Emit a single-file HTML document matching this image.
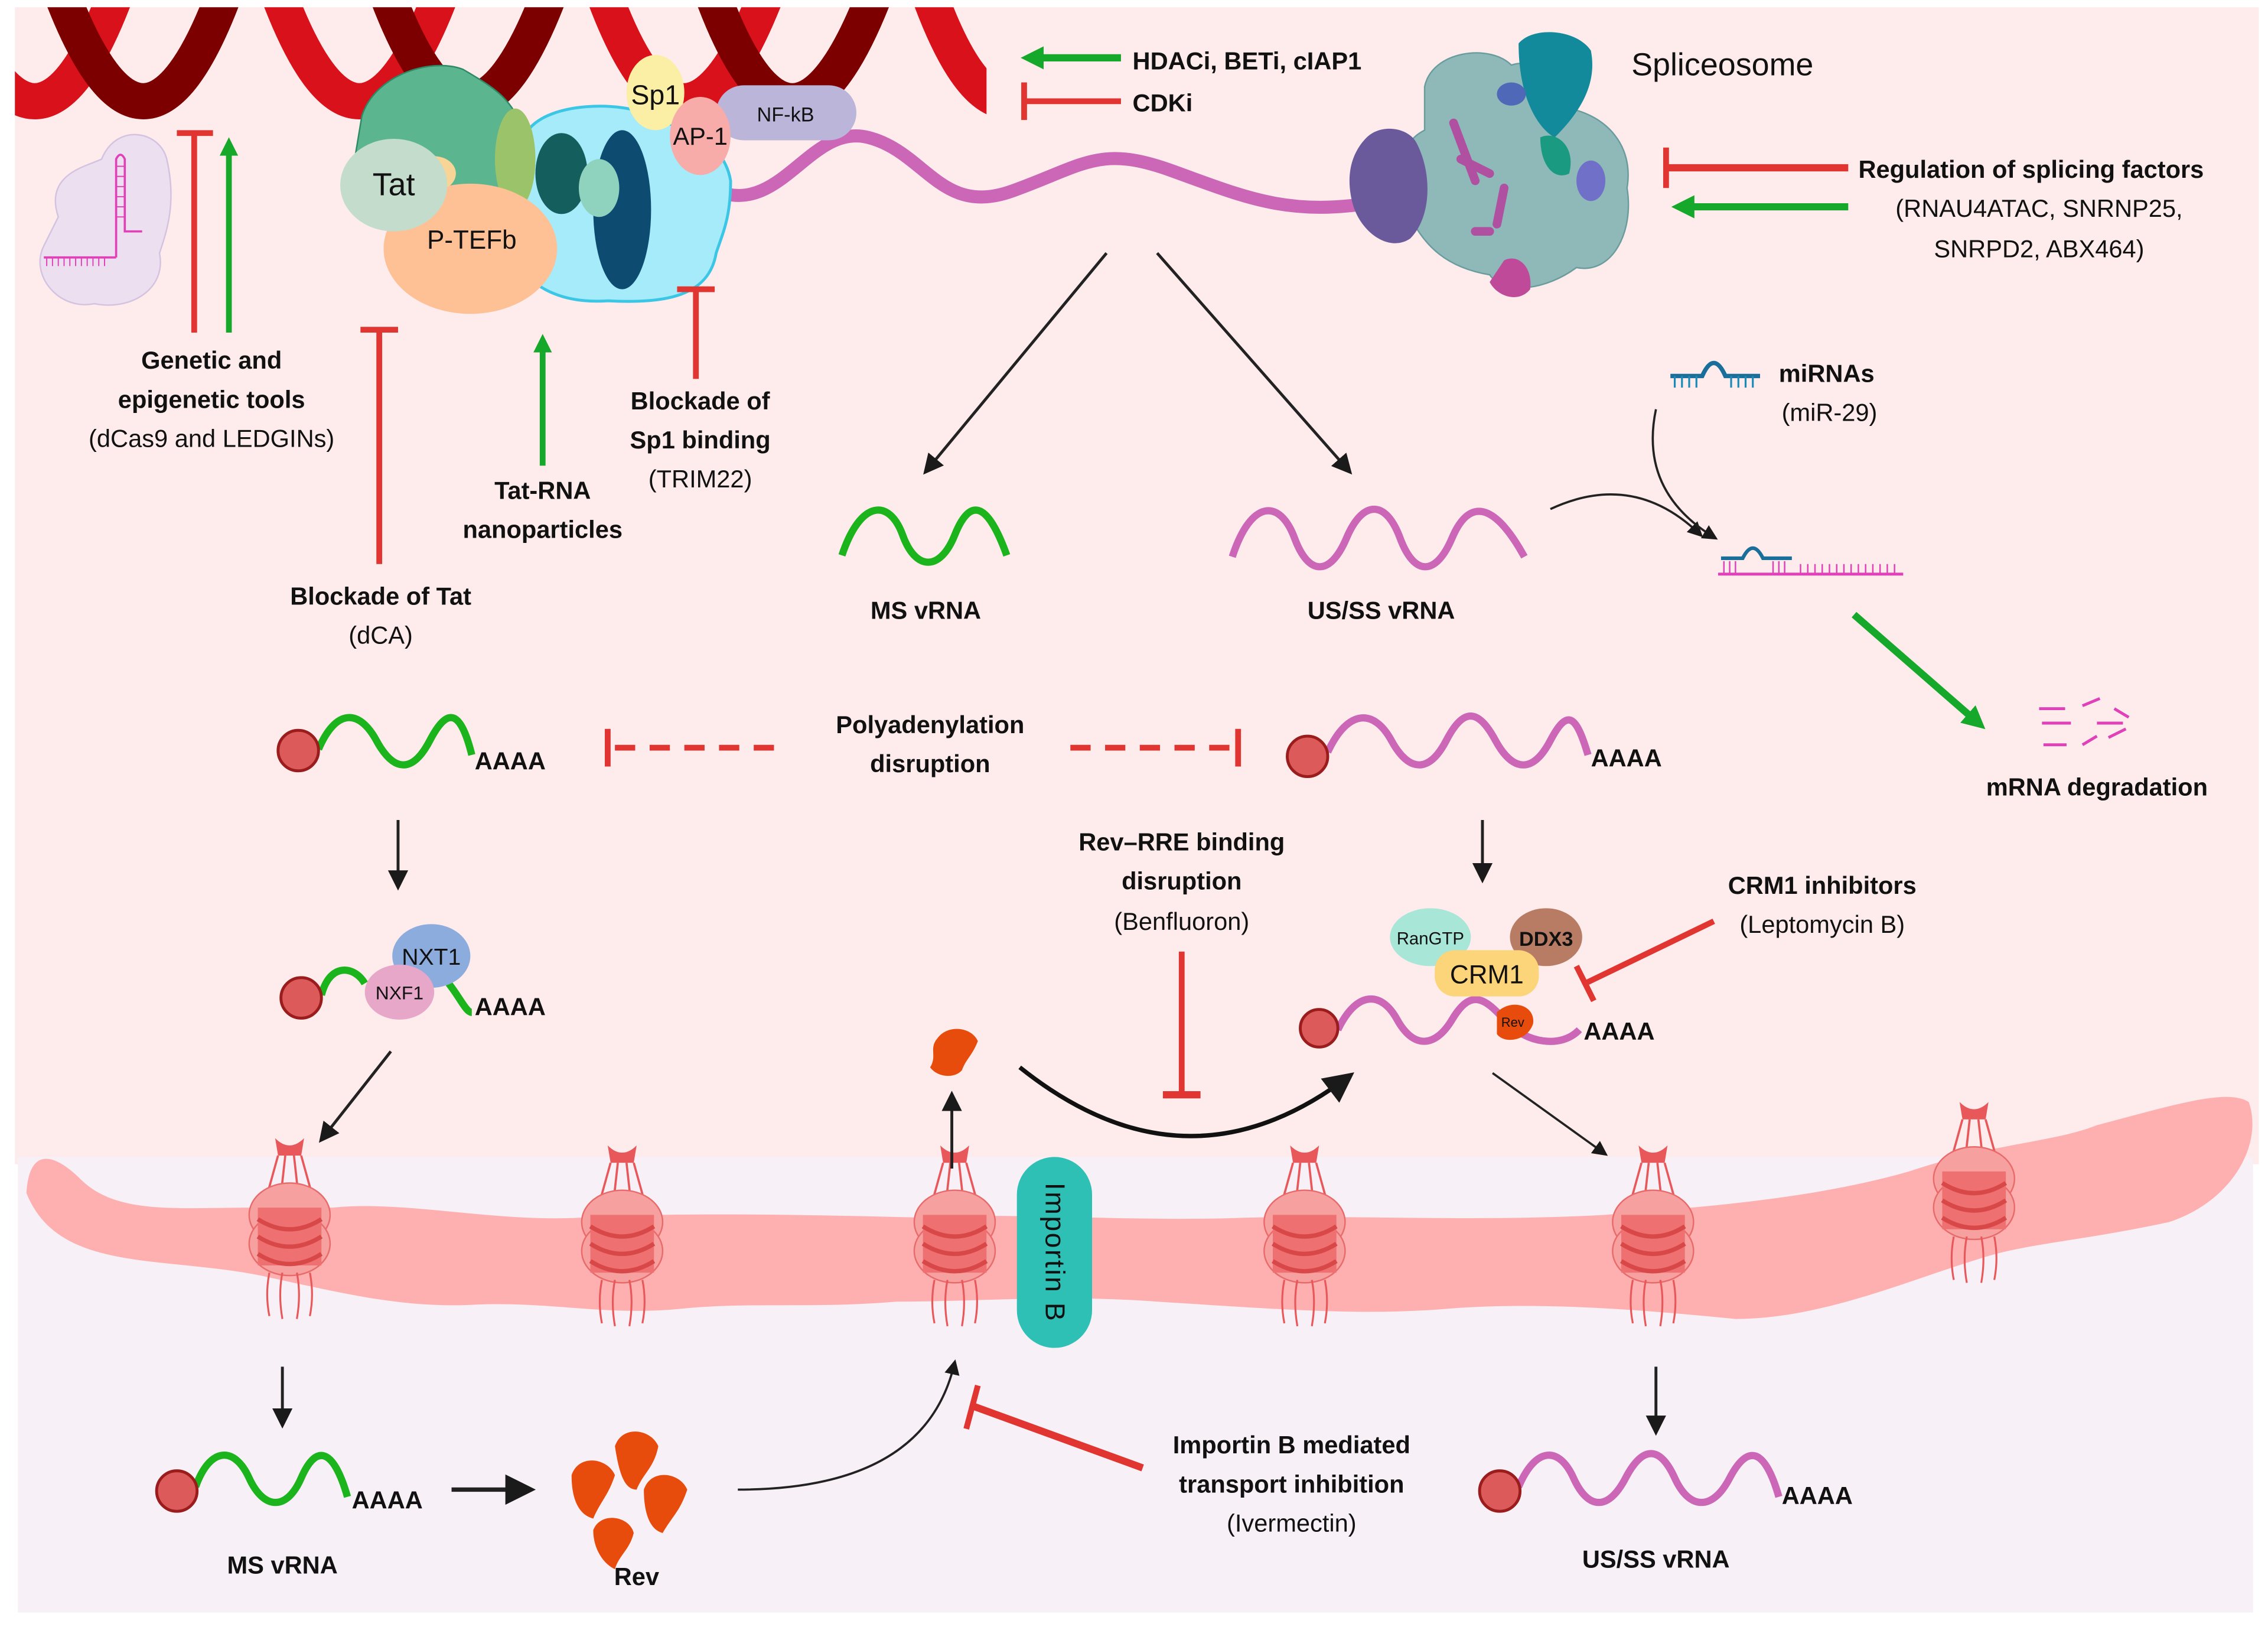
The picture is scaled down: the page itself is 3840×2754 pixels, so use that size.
<!DOCTYPE html>
<html><head><meta charset="utf-8"><style>
html,body{margin:0;padding:0;background:#fff}
svg{display:block}
text{font-family:"Liberation Sans",Arial,sans-serif;fill:#111}
.b{font-weight:bold;font-size:17px}
.n{font-size:17px}
</style></head><body>
<svg width="3840" height="2754" viewBox="0 0 1568 1125" xmlns="http://www.w3.org/2000/svg">
<defs>
<marker id="ah" viewBox="0 0 10 10" refX="8" refY="5" markerWidth="7" markerHeight="7" orient="auto-start-reverse"><path d="M0,0 L10,5 L0,10 z" fill="#1a1a1a"/></marker>
<marker id="gh" viewBox="0 0 10 10" refX="6" refY="5" markerWidth="3.2" markerHeight="3.2" orient="auto"><path d="M0,0 L10,5 L0,10 z" fill="#16a82a"/></marker>
<clipPath id="dna"><rect x="10" y="5" width="672" height="85"/></clipPath>
<g id="pore">
 <path d="M-10,-48 q10,10 20,0 l-2,12 h-16z" fill="#e8585a"/>
 <path d="M-8,-36 L-18,0 M-3,-36 L-7,0 M3,-36 L7,0 M8,-36 L18,0" stroke="#e8585a" stroke-width="1.5" fill="none"/>
 <ellipse cx="0" cy="5" rx="28" ry="22" fill="#f6a0a0" stroke="#e86a6a" stroke-width="1"/>
 <ellipse cx="0" cy="25" rx="28" ry="22" fill="#f6a0a0" stroke="#e86a6a" stroke-width="1"/>
 <path d="M-22,0 h44 v40 h-44z" fill="#ee7070"/>
 <path d="M-22,8 q22,14 44,0 M-22,20 q22,14 44,0 M-22,32 q22,14 44,0" stroke="#d94848" stroke-width="3" fill="none"/>
 <path d="M-14,45 q-3,15 0,30 M-5,45 q-3,15 0,32 M5,45 q3,15 0,32 M14,45 q3,15 0,30" stroke="#e8585a" stroke-width="1.3" fill="none"/>
</g>
</defs>
<rect x="10" y="5" width="1552" height="800" fill="#fdeceb"/>
<rect x="12" y="800" width="1546" height="315" fill="#f7f0f6"/>
<path d="M18,825 C20,790 40,800 55,815 C80,840 120,835 175,835 L230,835 C280,830 340,845 400,842 C470,838 560,840 640,842 C700,838 780,845 860,842 C940,840 1020,845 1110,840 C1170,835 1250,830 1320,810 C1380,790 1420,790 1450,778 C1500,765 1540,752 1555,762 C1565,790 1545,830 1500,845 C1440,858 1400,860 1370,870 C1320,885 1260,912 1200,912 C1130,905 1060,900 1000,905 C940,910 880,905 800,900 C730,895 680,900 620,900 C560,905 520,900 470,905 C420,910 380,900 330,902 C280,905 240,895 180,882 C110,868 40,880 18,825 Z" fill="#feb0b0"/>
<use href="#pore" x="200" y="835"/>
<use href="#pore" x="430" y="840"/>
<use href="#pore" x="660" y="840"/>
<use href="#pore" x="902" y="840"/>
<use href="#pore" x="1143" y="840"/>
<use href="#pore" x="1365" y="810"/>
<rect x="703" y="800" width="52" height="132" rx="26" fill="#2ec0b4"/>
<text x="729" y="866" text-anchor="middle" transform="rotate(90 729 866)" dy="6" style="font-size:19px;letter-spacing:1px">Importin B</text>

<g clip-path="url(#dna)" fill="none" stroke-width="25">
 <path d="M-258,-5 Q-202,145 -146,-5 T-33,-5 T80,-5 T192,-5 T305,-5 T417,-5 T530,-5 T642,-5 T755,-5" stroke="#d9111a"/>
 <path d="M-183,-5 Q-127,145 -71,-5 T42,-5 T155,-5 T267,-5 T380,-5 T492,-5 T605,-5 T717,-5" stroke="#7d0000"/>
</g>

<path d="M40,150 C30,120 60,115 70,110 C80,85 110,90 115,110 C122,140 115,160 110,175 C115,200 90,215 65,210 C40,215 20,190 30,170 Z" fill="#ecdff0" stroke="#d4c2e0"/>
<path d="M80,178 V110 q3,-6 6,0 V160 h12 M30,178 h50" stroke="#e040b8" stroke-width="1.5" fill="none"/>
<path d="M32,178 v6 M36,178 v6 M40,178 v6 M44,178 v6 M48,178 v6 M52,178 v6 M56,178 v6 M60,178 v6 M64,178 v6 M68,178 v6 M72,178 v6 M80,115 h6 M80,122 h6 M80,129 h6 M80,136 h6 M80,143 h6 M80,150 h6" stroke="#e040b8" stroke-width="0.8"/>

<path d="M495,132 C540,150 560,85 600,95 S650,150 700,132 S760,100 810,118 S890,150 950,140" stroke="#cc66b7" stroke-width="9" fill="none"/>
<path d="M365,90 C380,70 430,70 450,80 C470,90 500,95 505,125 C505,150 500,160 495,175 C490,205 460,210 420,208 C390,210 370,200 360,185 Z" fill="#a5ebfa" stroke="#3cc6e6" stroke-width="2"/>
<path d="M250,80 C260,50 300,40 320,48 C340,60 360,70 362,100 C370,130 350,160 320,160 C290,160 250,130 245,110 Z" fill="#5bb58f" stroke="#2d8a66" stroke-width="1"/>
<ellipse cx="356" cy="110" rx="14" ry="35" fill="#9bc46a"/>
<ellipse cx="388" cy="120" rx="18" ry="28" fill="#145e5e"/>
<ellipse cx="430" cy="145" rx="20" ry="55" fill="#0e4b70"/>
<ellipse cx="414" cy="130" rx="14" ry="20" fill="#8fd2bd"/>
<ellipse cx="325" cy="172" rx="60" ry="45" fill="#fec095"/>
<ellipse cx="300" cy="120" rx="15" ry="12" fill="#f8d496"/>
<ellipse cx="272" cy="128" rx="37" ry="32" fill="#c4dccb"/>
<text x="272" y="135" text-anchor="middle" style="font-size:22px">Tat</text>
<text x="326" y="172" text-anchor="middle" style="font-size:18px">P-TEFb</text>
<rect x="495" y="59" width="97" height="38" rx="19" fill="#bbb5da"/>
<text x="543" y="84" text-anchor="middle" style="font-size:14px">NF-kB</text>
<ellipse cx="453" cy="64" rx="20" ry="26" fill="#fbeea5"/>
<text x="453" y="72" text-anchor="middle" style="font-size:19px">Sp1</text>
<ellipse cx="484" cy="94" rx="21" ry="27" fill="#f8aca9"/>
<text x="484" y="100" text-anchor="middle" style="font-size:17px">AP-1</text>

<line x1="775" y1="40" x2="712" y2="40" stroke="#16a82a" stroke-width="5" marker-end="url(#gh)"/>
<line x1="775" y1="70" x2="708" y2="70" stroke="#e03530" stroke-width="4"/>
<line x1="708" y1="57" x2="708" y2="83" stroke="#e03530" stroke-width="4"/>
<text x="783" y="48" class="b">HDACi, BETi, cIAP1</text>
<text x="783" y="77" class="b">CDKi</text>

<path d="M985,60 C990,35 1030,30 1045,45 C1060,40 1080,50 1085,75 C1110,80 1130,100 1125,130 C1130,160 1115,190 1090,185 C1070,200 1040,205 1030,190 C1000,185 985,170 975,150 C960,130 965,100 985,90 Z" fill="#8fb8b9" stroke="#6a9c9e"/>
<path d="M945,95 C955,85 975,88 980,100 C990,120 990,150 975,165 C960,175 940,160 935,140 C930,120 935,105 945,95 Z" fill="#6a5a9c"/>
<path d="M1050,30 C1060,18 1090,20 1100,35 C1105,60 1090,80 1075,95 C1065,90 1050,70 1050,30 Z" fill="#128a9b"/>
<path d="M1065,95 C1075,90 1090,100 1085,120 C1075,125 1065,115 1065,95Z" fill="#1a9a80"/>
<path d="M1040,180 C1050,175 1060,185 1058,200 C1050,210 1035,205 1030,195 Z" fill="#c04a9a"/>
<path d="M1005,85 l15,40 M1010,110 l20,10 M1040,130 l-5,25 M1020,160 l10,0" stroke="#b050a0" stroke-width="6" stroke-linecap="round"/>
<ellipse cx="1100" cy="125" rx="10" ry="14" fill="#7070c8"/>
<ellipse cx="1045" cy="65" rx="10" ry="8" fill="#5068b8"/>
<text x="1128" y="52" style="font-size:22px">Spliceosome</text>
<line x1="1278" y1="116" x2="1152" y2="116" stroke="#e03530" stroke-width="5"/>
<line x1="1152" y1="102" x2="1152" y2="130" stroke="#e03530" stroke-width="4"/>
<line x1="1278" y1="143" x2="1162" y2="143" stroke="#16a82a" stroke-width="5" marker-end="url(#gh)"/>
<text x="1285" y="123" class="b">Regulation of splicing factors</text>
<text x="1410" y="150" class="n" text-anchor="middle">(RNAU4ATAC, SNRNP25,</text>
<text x="1410" y="178" class="n" text-anchor="middle">SNRPD2, ABX464)</text>

<line x1="134" y1="230" x2="134" y2="92" stroke="#e03530" stroke-width="4"/>
<line x1="122" y1="92" x2="147" y2="92" stroke="#e03530" stroke-width="4"/>
<line x1="158" y1="230" x2="158" y2="100" stroke="#16a82a" stroke-width="4" marker-end="url(#gh)"/>
<text x="146" y="255" class="b" text-anchor="middle">Genetic and</text>
<text x="146" y="282" class="b" text-anchor="middle">epigenetic tools</text>
<text x="146" y="309" class="n" text-anchor="middle">(dCas9 and LEDGINs)</text>
<line x1="262" y1="390" x2="262" y2="228" stroke="#e03530" stroke-width="4"/>
<line x1="249" y1="228" x2="275" y2="228" stroke="#e03530" stroke-width="4"/>
<text x="263" y="418" class="b" text-anchor="middle">Blockade of Tat</text>
<text x="263" y="445" class="n" text-anchor="middle">(dCA)</text>
<line x1="375" y1="322" x2="375" y2="236" stroke="#16a82a" stroke-width="4" marker-end="url(#gh)"/>
<text x="375" y="345" class="b" text-anchor="middle">Tat-RNA</text>
<text x="375" y="372" class="b" text-anchor="middle">nanoparticles</text>
<line x1="481" y1="262" x2="481" y2="200" stroke="#e03530" stroke-width="4"/>
<line x1="468" y1="200" x2="494" y2="200" stroke="#e03530" stroke-width="4"/>
<text x="484" y="283" class="b" text-anchor="middle">Blockade of</text>
<text x="484" y="310" class="b" text-anchor="middle">Sp1 binding</text>
<text x="484" y="337" class="n" text-anchor="middle">(TRIM22)</text>

<line x1="765" y1="175" x2="640" y2="326" stroke="#222" stroke-width="2" marker-end="url(#ah)"/>
<line x1="800" y1="175" x2="933" y2="326" stroke="#222" stroke-width="2" marker-end="url(#ah)"/>
<path d="M582,384 C595,345 615,345 624,370 S650,395 660,370 S682,345 696,384" stroke="#1cb41c" stroke-width="5" fill="none"/>
<text x="640" y="428" class="b" text-anchor="middle">MS vRNA</text>
<path d="M852,385 C865,345 885,345 895,372 S920,398 931,372 S958,345 968,372 S993,398 1004,372 S1032,345 1054,385" stroke="#cc66b7" stroke-width="5" fill="none"/>
<text x="955" y="428" class="b" text-anchor="middle">US/SS vRNA</text>

<path d="M1072,352 Q1130,325 1176,370" stroke="#222" stroke-width="1.5" fill="none" marker-end="url(#ah)"/>
<path d="M1145,283 Q1133,340 1186,372" stroke="#222" stroke-width="1.5" fill="none" marker-end="url(#ah)"/>
<path d="M1155,260 h22 q8,-18 16,0 h24" stroke="#1a6e9a" stroke-width="3" fill="none"/>
<path d="M1158,260 v8 M1163,260 v8 M1168,260 v8 M1173,260 v8 M1197,260 v8 M1202,260 v8 M1207,260 v8 M1212,260 v8" stroke="#1a8ab8" stroke-width="1.3"/>
<text x="1230" y="264" class="b">miRNAs</text>
<text x="1265" y="291" class="n" text-anchor="middle">(miR-29)</text>
<path d="M1188,397 h128" stroke="#e040b8" stroke-width="2"/>
<path d="M1190,386 h15 q7,-14 14,0 h20" stroke="#1a6e9a" stroke-width="2.5" fill="none"/>
<path d="M1192,388 v9 M1196,388 v9 M1200,388 v9 M1226,388 v9 M1230,388 v9 M1234,388 v9 M1245,390 v7 M1250,390 v7 M1255,390 v7 M1260,390 v7 M1265,390 v7 M1270,390 v7 M1275,390 v7 M1280,390 v7 M1285,390 v7 M1290,390 v7 M1295,390 v7 M1300,390 v7 M1305,390 v7 M1310,390 v7" stroke="#e040b8" stroke-width="1"/>
<line x1="1282" y1="425" x2="1368" y2="500" stroke="#16a82a" stroke-width="5" marker-end="url(#gh)"/>
<path d="M1410,490 h18 M1412,500 h20 M1440,488 l12,-5 M1450,500 h18 M1413,515 h16 M1440,515 l10,-6 M1458,510 l12,-6 M1462,490 l10,6" stroke="#e040b8" stroke-width="2"/>
<text x="1450" y="550" class="b" text-anchor="middle">mRNA degradation</text>

<path d="M220,518 C232,490 248,490 260,512 S285,535 297,512 S318,490 326,522" stroke="#1cb41c" stroke-width="5" fill="none"/>
<circle cx="206" cy="519" r="14" fill="#dc5a5a" stroke="#9a1c1c" stroke-width="2"/>
<text x="328" y="532" class="b">AAAA</text>
<line x1="535" y1="517" x2="420" y2="517" stroke="#e03530" stroke-width="4" stroke-dasharray="14,10"/>
<line x1="420" y1="504" x2="420" y2="530" stroke="#e03530" stroke-width="4"/>
<text x="643" y="507" class="b" text-anchor="middle">Polyadenylation</text>
<text x="643" y="534" class="b" text-anchor="middle">disruption</text>
<line x1="740" y1="517" x2="856" y2="517" stroke="#e03530" stroke-width="4" stroke-dasharray="14,10"/>
<line x1="856" y1="504" x2="856" y2="530" stroke="#e03530" stroke-width="4"/>
<path d="M918,520 C932,490 950,490 962,512 S988,535 1000,512 S1022,490 1034,512 S1060,535 1072,512 S1090,495 1098,522" stroke="#cc66b7" stroke-width="5" fill="none"/>
<circle cx="904" cy="523" r="14" fill="#dc5a5a" stroke="#9a1c1c" stroke-width="2"/>
<text x="1100" y="530" class="b">AAAA</text>

<line x1="275" y1="567" x2="275" y2="613" stroke="#222" stroke-width="2" marker-end="url(#ah)"/>
<path d="M222,688 C228,665 245,668 252,680 M310,680 C318,690 322,700 326,700" stroke="#1cb41c" stroke-width="5" fill="none"/>
<circle cx="208" cy="690" r="14" fill="#dc5a5a" stroke="#9a1c1c" stroke-width="2"/>
<ellipse cx="298" cy="661" rx="27" ry="22" fill="#8cacde"/>
<text x="298" y="667" text-anchor="middle" style="font-size:16px">NXT1</text>
<ellipse cx="276" cy="686" rx="24" ry="19" fill="#e7a7c9"/>
<text x="276" y="691" text-anchor="middle" style="font-size:13px">NXF1</text>
<text x="328" y="702" class="b">AAAA</text>
<line x1="270" y1="727" x2="222" y2="788" stroke="#222" stroke-width="2" marker-end="url(#ah)"/>

<line x1="1025" y1="567" x2="1025" y2="608" stroke="#222" stroke-width="2" marker-end="url(#ah)"/>
<path d="M925,712 C938,685 955,685 966,705 S992,725 1004,705 S1025,688 1040,705 S1080,725 1092,712" stroke="#cc66b7" stroke-width="5" fill="none"/>
<circle cx="912" cy="711" r="13" fill="#dc5a5a" stroke="#9a1c1c" stroke-width="2"/>
<ellipse cx="989" cy="648" rx="28" ry="20" fill="#a8e6d8"/>
<text x="989" y="653" text-anchor="middle" style="font-size:12px">RanGTP</text>
<ellipse cx="1069" cy="648" rx="25" ry="20" fill="#b87c64"/>
<text x="1069" y="654" text-anchor="middle" style="font-size:14px;font-weight:bold">DDX3</text>
<rect x="992" y="657" width="72" height="32" rx="14" fill="#fcd47a"/>
<text x="1028" y="680" text-anchor="middle" style="font-size:18px">CRM1</text>
<path d="M1035,700 C1045,690 1062,695 1060,708 C1056,720 1040,722 1035,715 Z" fill="#e84c0c"/>
<text x="1046" y="710" text-anchor="middle" style="font-size:9px">Rev</text>
<text x="1095" y="719" class="b">AAAA</text>
<line x1="1185" y1="637" x2="1096" y2="680" stroke="#e03530" stroke-width="4"/>
<line x1="1090" y1="668" x2="1102" y2="692" stroke="#e03530" stroke-width="4"/>
<text x="1260" y="618" class="b" text-anchor="middle">CRM1 inhibitors</text>
<text x="1260" y="645" class="n" text-anchor="middle">(Leptomycin B)</text>
<text x="817" y="588" class="b" text-anchor="middle">Rev–RRE binding</text>
<text x="817" y="615" class="b" text-anchor="middle">disruption</text>
<text x="817" y="643" class="n" text-anchor="middle">(Benfluoron)</text>
<line x1="817" y1="658" x2="817" y2="757" stroke="#e03530" stroke-width="4"/>
<line x1="804" y1="757" x2="830" y2="757" stroke="#e03530" stroke-width="5"/>
<path d="M648,718 C655,708 672,710 676,720 C672,730 668,732 665,740 C660,746 648,745 643,738 C648,730 642,725 648,718 Z" fill="#e84c0c"/>
<line x1="658" y1="808" x2="658" y2="757" stroke="#222" stroke-width="2" marker-end="url(#ah)"/>
<path d="M705,738 Q820,830 933,744" stroke="#111" stroke-width="3" fill="none" marker-end="url(#ah)"/>
<line x1="1032" y1="742" x2="1110" y2="798" stroke="#222" stroke-width="1.5" marker-end="url(#ah)"/>

<line x1="195" y1="945" x2="195" y2="985" stroke="#222" stroke-width="2" marker-end="url(#ah)"/>
<path d="M135,1028 C145,1000 162,1000 172,1022 S198,1045 208,1022 S230,1000 240,1035" stroke="#1cb41c" stroke-width="5" fill="none"/>
<circle cx="122" cy="1031" r="14" fill="#dc5a5a" stroke="#9a1c1c" stroke-width="2"/>
<text x="243" y="1043" class="b">AAAA</text>
<line x1="312" y1="1030" x2="366" y2="1030" stroke="#222" stroke-width="3" marker-end="url(#ah)"/>
<g fill="#e84c0c">
<path d="M425,1000 C430,985 450,988 455,1000 C452,1015 445,1018 440,1030 C432,1030 428,1020 425,1000Z"/>
<path d="M395,1020 C400,1005 420,1008 425,1020 C420,1035 415,1038 410,1050 C402,1048 395,1040 395,1020Z"/>
<path d="M445,1030 C450,1015 470,1018 475,1030 C470,1045 465,1048 458,1060 C450,1058 445,1048 445,1030Z"/>
<path d="M410,1058 C415,1045 435,1048 438,1060 C435,1072 428,1075 425,1085 C418,1082 410,1072 410,1058Z"/>
</g>
<text x="195" y="1088" class="b" text-anchor="middle">MS vRNA</text>
<text x="440" y="1096" class="b" text-anchor="middle">Rev</text>
<path d="M510,1030 Q640,1030 660,942" stroke="#222" stroke-width="1.5" fill="none" marker-end="url(#ah)"/>
<line x1="790" y1="1015" x2="672" y2="972" stroke="#e03530" stroke-width="5"/>
<line x1="676" y1="958" x2="668" y2="988" stroke="#e03530" stroke-width="4"/>
<text x="893" y="1005" class="b" text-anchor="middle">Importin B mediated</text>
<text x="893" y="1032" class="b" text-anchor="middle">transport inhibition</text>
<text x="893" y="1059" class="n" text-anchor="middle">(Ivermectin)</text>
<line x1="1145" y1="945" x2="1145" y2="990" stroke="#222" stroke-width="2" marker-end="url(#ah)"/>
<path d="M1050,1028 C1062,1000 1078,1000 1088,1022 S1112,1045 1124,1022 S1148,1000 1158,1022 S1184,1045 1196,1022 S1220,1000 1230,1035" stroke="#cc66b7" stroke-width="5" fill="none"/>
<circle cx="1037" cy="1031" r="14" fill="#dc5a5a" stroke="#9a1c1c" stroke-width="2"/>
<text x="1232" y="1040" class="b">AAAA</text>
<text x="1145" y="1084" class="b" text-anchor="middle">US/SS vRNA</text>
</svg>
</body></html>
